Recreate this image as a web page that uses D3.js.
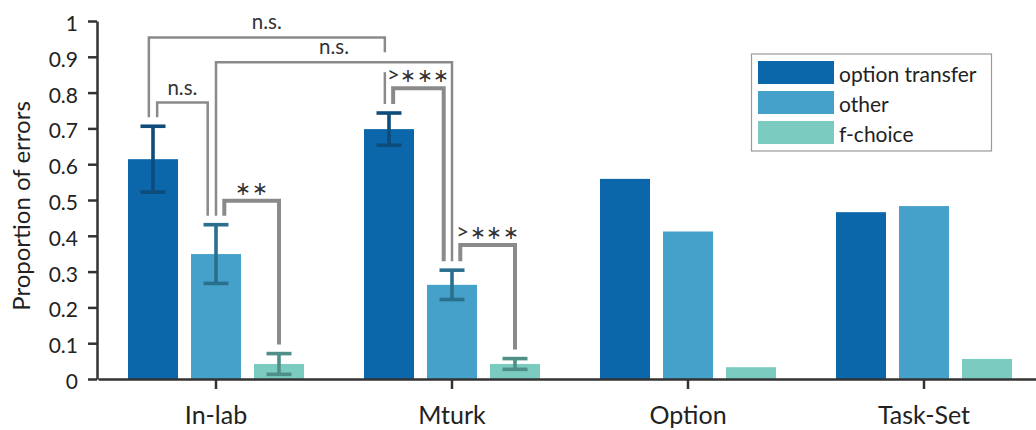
<!DOCTYPE html>
<html>
<head>
<meta charset="utf-8">
<script src="https://cdn.jsdelivr.net/npm/d3@7"></script>
<style>
  html, body { margin: 0; padding: 0; background: #fff; }
  svg { display: block; font-family: Lato, "Open Sans", sans-serif; }
</style>
</head>
<body>
<svg id="chart" width="1036" height="430"></svg>
<script>
// Groups and error types
const categories = ["In-lab", "Mturk", "Option", "Task-Set"];
const series = ["option transfer", "other", "f-choice"];
const seriesColors = ["#0b67aa", "#45a1c9", "#7bcbc0"];
const errorColors = ["#0d4c7b", "#2b6f8f", "#4f8f88"];

// Mean proportion of errors per group (one array per error type)
const optionTransfer = [0.614, 0.698, 0.559, 0.466];
const other = [0.349, 0.263, 0.412, 0.483];
const fChoice = [0.042, 0.042, 0.033, 0.056];

// Half-width of the error bars (null where no bar is shown)
const optionTransferErr = [0.092, 0.045, null, null];
const otherErr = [0.082, 0.041, null, null];
const fChoiceErr = [0.029, 0.015, null, null];

const yTicks = [0, 0.1, 0.2, 0.3, 0.4, 0.5, 0.6, 0.7, 0.8, 0.9, 1];

// Pairwise comparisons: endpoints, bracket height (data units), label
const comparisons = [
  { from: ["In-lab", "option transfer"], to: ["Mturk", "option transfer"], level: 0.954, label: "n.s.", strong: false, slotFrom: -0.5, slotTo: -0.5 },
  { from: ["In-lab", "other"], to: ["Mturk", "other"], level: 0.885, label: "n.s.", strong: false, slotFrom: 0, slotTo: 0 },
  { from: ["In-lab", "option transfer"], to: ["In-lab", "other"], level: 0.772, label: "n.s.", strong: false, slotFrom: 0.5, slotTo: -1 },
  { from: ["In-lab", "other"], to: ["In-lab", "f-choice"], level: 0.498, label: "∗∗", strong: true, slotFrom: 1, slotTo: 0 },
  { from: ["Mturk", "option transfer"], to: ["Mturk", "other"], level: 0.812, label: ">∗∗∗", strong: true, slotFrom: 0.5, slotTo: -1 },
  { from: ["Mturk", "other"], to: ["Mturk", "f-choice"], level: 0.374, label: ">∗∗∗", strong: true, slotFrom: 1, slotTo: 0 }
];

const means = [optionTransfer, other, fChoice];
const errs = [optionTransferErr, otherErr, fChoiceErr];

const rows = [];
categories.forEach((c, i) => {
  series.forEach((s, j) => {
    rows.push({ cat: c, series: s, si: j, value: means[j][i], err: errs[j][i] });
  });
});
const rowOf = (c, s) => rows.find(r => r.cat === c && r.series === s);

const svg = d3.select("#chart");

const y = d3.scaleLinear().domain([0, 1]).range([379, 21]);
const x = d3.scaleBand().domain(categories).range([98, 1042]).padding(0);
const inner = d3.scaleBand().domain(series).range([-88, 88]).paddingInner(13 / 63).paddingOuter(0);
const color = d3.scaleOrdinal().domain(series).range(seriesColors);
const errColor = d3.scaleOrdinal().domain(series).range(errorColors);

const barCenter = (c, s) => x(c) + x.bandwidth() / 2 + inner(s) + inner.bandwidth() / 2;

// Bars
svg.append("g")
  .selectAll("rect")
  .data(rows)
  .join("rect")
  .attr("x", d => x(d.cat) + x.bandwidth() / 2 + inner(d.series))
  .attr("width", inner.bandwidth())
  .attr("y", d => y(d.value))
  .attr("height", d => y(0) - y(d.value))
  .attr("fill", d => color(d.series));

// Error bars
const eb = svg.append("g")
  .selectAll("g")
  .data(rows.filter(d => d.err != null))
  .join("g")
  .attr("stroke", d => errColor(d.series))
  .attr("stroke-width", 3.6)
  .attr("fill", "none");
const capHalf = 12.5;
eb.append("line")
  .attr("x1", d => barCenter(d.cat, d.series)).attr("x2", d => barCenter(d.cat, d.series))
  .attr("y1", d => y(d.value - d.err)).attr("y2", d => y(d.value + d.err));
eb.append("line")
  .attr("x1", d => barCenter(d.cat, d.series) - capHalf).attr("x2", d => barCenter(d.cat, d.series) + capHalf)
  .attr("y1", d => y(d.value + d.err)).attr("y2", d => y(d.value + d.err));
eb.append("line")
  .attr("x1", d => barCenter(d.cat, d.series) - capHalf).attr("x2", d => barCenter(d.cat, d.series) + capHalf)
  .attr("y1", d => y(d.value - d.err)).attr("y2", d => y(d.value - d.err));

// Comparison brackets
const slotStep = 8.3, legGap = 9, crossGap = 10;
const brackets = comparisons.map(c => {
  const a = rowOf(c.from[0], c.from[1]);
  const b = rowOf(c.to[0], c.to[1]);
  const topOf = r => y(r.value + (r.err || 0)) - legGap;
  return {
    ...c,
    x1: barCenter(a.cat, a.series) + c.slotFrom * slotStep,
    x2: barCenter(b.cat, b.series) + c.slotTo * slotStep,
    yTop: y(c.level),
    y1: topOf(a),
    y2: topOf(b)
  };
});

// Vertical leg, broken where it passes through another bracket's horizontal
function legSegments(xLeg, yStart, yEnd, self) {
  const cuts = brackets
    .filter(o => o !== self && o.x1 < xLeg && o.x2 > xLeg && o.yTop > yStart && o.yTop < yEnd)
    .map(o => o.yTop)
    .sort((p, q) => p - q);
  const segs = [];
  let cur = yStart;
  cuts.forEach(cy => { segs.push([cur, cy - crossGap]); cur = cy + crossGap; });
  segs.push([cur, yEnd]);
  return segs;
}

const bg = svg.append("g").attr("fill", "none").attr("stroke", "#8a8a8a");
brackets.forEach(b => {
  const g = bg.append("g").attr("stroke-width", b.strong ? 4 : 2.5);
  const leftSegs = legSegments(b.x1, b.yTop, b.y1, b);
  const rightSegs = legSegments(b.x2, b.yTop, b.y2, b);
  const path = d3.path();
  path.moveTo(b.x1, leftSegs[0][1]);
  path.lineTo(b.x1, b.yTop);
  path.lineTo(b.x2, b.yTop);
  path.lineTo(b.x2, rightSegs[0][1]);
  g.append("path").attr("d", path.toString()).attr("stroke-linejoin", "miter");
  leftSegs.slice(1).forEach(s => g.append("line").attr("x1", b.x1).attr("x2", b.x1).attr("y1", s[0]).attr("y2", s[1]));
  rightSegs.slice(1).forEach(s => g.append("line").attr("x1", b.x2).attr("x2", b.x2).attr("y1", s[0]).attr("y2", s[1]));
  const t = svg.append("text")
    .attr("x", (b.x1 + b.x2) / 2)
    .attr("y", b.yTop - (b.strong ? 6 : 8))
    .attr("text-anchor", "middle")
    .attr("fill", "#333")
    .attr("font-size", b.strong ? 19 : 20.5)
    .attr("letter-spacing", b.strong ? 0.5 : 0);
  if (b.label.startsWith(">")) {
    t.append("tspan").attr("font-size", 22).text(">");
    t.append("tspan").text(b.label.slice(1));
  } else {
    t.text(b.label);
  }
});

// Y axis
const yAxis = svg.append("g")
  .attr("transform", "translate(97,0)")
  .call(d3.axisLeft(y).tickValues(yTicks).tickFormat(d => (d === 0 || d === 1) ? String(d) : d.toFixed(1))
    .tickSize(9).tickSizeOuter(0).tickPadding(10));
yAxis.selectAll("path, line").attr("stroke", "#333").attr("stroke-width", 2.5);
yAxis.selectAll("text").attr("font-size", 21).attr("fill", "#222").attr("font-family", "Lato, sans-serif").attr("dy", "0.45em");

// X axis
const xAxis = svg.append("g")
  .attr("transform", `translate(0,${y(0)})`)
  .call(d3.axisBottom(x).tickSize(10).tickSizeOuter(0).tickPadding(17));
xAxis.selectAll("path, line").attr("stroke", "#333").attr("stroke-width", 2.5);
xAxis.selectAll("text").attr("font-size", 25).attr("fill", "#222").attr("font-family", "Lato, sans-serif");

// Y axis title
svg.append("text")
  .attr("transform", "translate(30,206) rotate(-90)")
  .attr("text-anchor", "middle")
  .attr("font-size", 24)
  .attr("fill", "#222")
  .text("Proportion of errors");

// Legend
const legend = svg.append("g");
legend.append("rect")
  .attr("x", 751.5).attr("y", 54).attr("width", 240).attr("height", 97)
  .attr("fill", "#fff").attr("stroke", "#9a9a9a").attr("stroke-width", 1.2);
const li = legend.selectAll("g.item")
  .data(series)
  .join("g")
  .attr("class", "item")
  .attr("transform", (d, i) => `translate(758,${61 + i * 30})`);
li.append("rect").attr("width", 76).attr("height", 23).attr("fill", d => color(d));
li.append("text")
  .attr("x", 81).attr("y", 20.5)
  .attr("font-size", 21)
  .attr("fill", "#222")
  .text(d => d);
</script>
</body>
</html>
